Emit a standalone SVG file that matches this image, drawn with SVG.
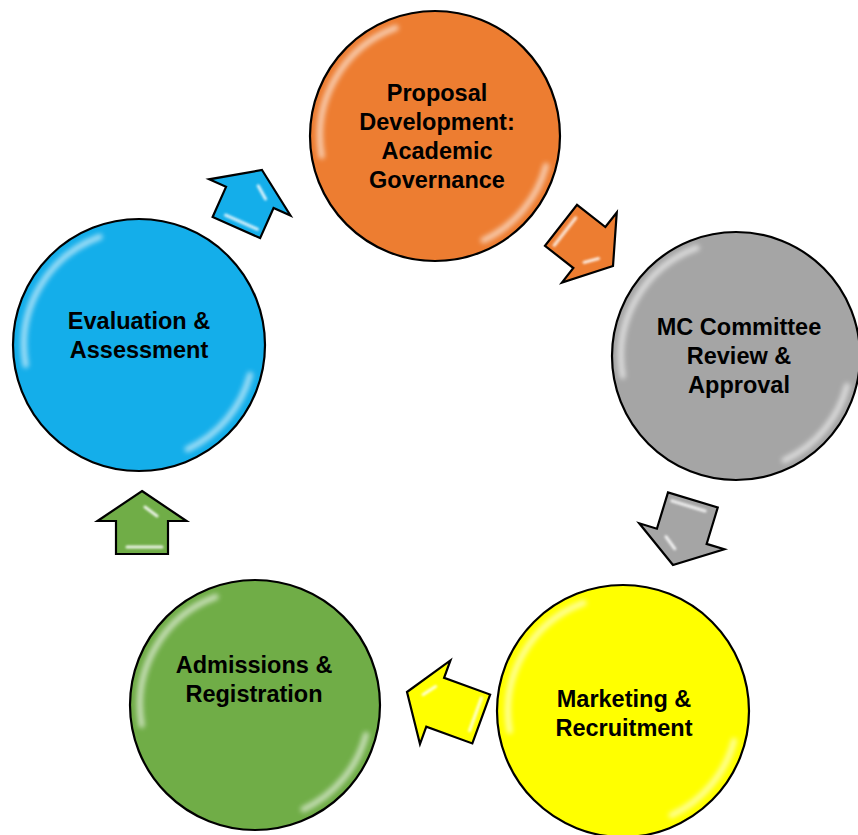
<svg xmlns="http://www.w3.org/2000/svg" width="858" height="835" viewBox="0 0 858 835">
<defs>
<style>
.c{stroke:#000;stroke-width:2.2}
.t{font-family:"Liberation Sans",Arial,sans-serif;font-weight:bold;font-size:23.5px;fill:#000;text-anchor:middle}
.gl{fill:none;stroke:#fff;stroke-width:6;stroke-linecap:round;opacity:.6;filter:url(#b)}
.ar{stroke:#000;stroke-width:2.2;stroke-linejoin:miter}
.ah{fill:none;stroke:#fff;stroke-width:3;stroke-linecap:round;opacity:.85;filter:url(#b1)}
.orange{fill:#ED7D31}.gray{fill:#A5A5A5}.yellow{fill:#FFFF00}.green{fill:#70AD47}.blue{fill:#14AEEA}
</style>
<filter id="b" x="-20%" y="-20%" width="140%" height="140%"><feGaussianBlur stdDeviation="2.5"/></filter>
<filter id="b1" x="-50%" y="-50%" width="200%" height="200%"><feGaussianBlur stdDeviation="1"/></filter>
<path id="gloss" d="M-113.3,20 A115,115 0 0 1 -39.3,-108.1 M111.1,29.8 A115,115 0 0 1 48.6,104.2"/>
</defs>

<g id="connectors">
  <g id="arrow-orange" transform="translate(613,266) rotate(128)">
    <path class="ar orange" d="M0,0 L44.5,30 L26,30 L26,66 L-26,66 L-26,30 L-44.5,30 Z"/>
    <path class="ah" d="M3,16 L15,25 M-15,59 L20,59"/>
  </g>
  <g id="arrow-gray" transform="translate(673,565) rotate(197)">
    <path class="ar gray" d="M0,0 L44.5,30 L26,30 L26,68 L-26,68 L-26,30 L-44.5,30 Z"/>
    <path class="ah" d="M3,16 L15,25 M-15,61 L20,61"/>
  </g>
  <g id="arrow-yellow" transform="translate(407,692) rotate(-70)">
    <path class="ar yellow" d="M0,0 L44.5,30 L26,30 L26,79 L-26,79 L-26,30 L-44.5,30 Z"/>
    <path class="ah" d="M3,16 L15,25 M-15,72 L20,72"/>
  </g>
  <g id="arrow-green" transform="translate(142,491)">
    <path class="ar green" d="M0,0 L44.5,30 L26,30 L26,63 L-26,63 L-26,30 L-44.5,30 Z"/>
    <path class="ah" d="M3,16 L15,25 M-15,56 L20,56"/>
  </g>
  <g id="arrow-blue" transform="translate(262,170) rotate(24)">
    <path class="ar blue" d="M0,0 L44.5,30 L26,30 L26,63 L-26,63 L-26,30 L-44.5,30 Z"/>
    <path class="ah" d="M3,16 L15,25 M-15,56 L20,56"/>
  </g>
</g>

<g id="node-proposal" transform="translate(435,136)">
  <circle class="c orange" r="125"/>
  <use href="#gloss" class="gl"/>
  <text class="t" x="2" y="-35">Proposal</text>
  <text class="t" x="2" y="-6">Development:</text>
  <text class="t" x="2" y="23">Academic</text>
  <text class="t" x="2" y="52">Governance</text>
</g>

<g id="node-mc" transform="translate(736,356)">
  <circle class="c gray" r="124"/>
  <use href="#gloss" class="gl"/>
  <text class="t" x="3" y="-21">MC Committee</text>
  <text class="t" x="3" y="8">Review &amp;</text>
  <text class="t" x="3" y="37">Approval</text>
</g>

<g id="node-marketing" transform="translate(623,711)">
  <circle class="c yellow" r="126"/>
  <use href="#gloss" class="gl"/>
  <text class="t" x="1" y="-4">Marketing &amp;</text>
  <text class="t" x="1" y="25">Recruitment</text>
</g>

<g id="node-admissions" transform="translate(255,705)">
  <circle class="c green" r="125"/>
  <use href="#gloss" class="gl"/>
  <text class="t" x="-1" y="-32">Admissions &amp;</text>
  <text class="t" x="-1" y="-3">Registration</text>
</g>

<g id="node-evaluation" transform="translate(139,345)">
  <circle class="c blue" r="126"/>
  <use href="#gloss" class="gl"/>
  <text class="t" x="0" y="-16">Evaluation &amp;</text>
  <text class="t" x="0" y="13">Assessment</text>
</g>
</svg>
